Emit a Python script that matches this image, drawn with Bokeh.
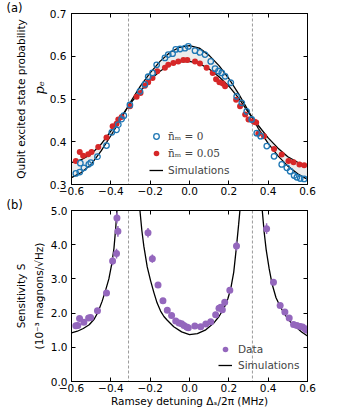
import numpy as np
from bokeh.plotting import figure
from bokeh.models import (Range1d, LinearAxis, FixedTicker, CustomJSTickFormatter,
                          Span, Title, Legend, LegendItem)
from bokeh.layouts import column
from bokeh.embed import file_html
from bokeh.resources import INLINE

# ---------------- data ----------------
x_ticks = [-0.6, -0.4, -0.2, 0.0, 0.2, 0.4, 0.6]
pe_ticks = [0.3, 0.4, 0.5, 0.6, 0.7]
sens_ticks = [0.0, 1.0, 2.0, 3.0, 4.0, 5.0]
crossing_detunings = [-0.31, 0.32]

# (a) simulations
sim_detuning = [-0.60, -0.55, -0.50, -0.45, -0.40, -0.35, -0.30, -0.25, -0.20, -0.15, -0.10, -0.05,
                0.00, 0.05, 0.10, 0.15, 0.20, 0.25, 0.30, 0.35, 0.40, 0.45, 0.50, 0.55, 0.60]
sim_pe_n0 = [0.316, 0.328, 0.347, 0.378, 0.414, 0.452, 0.493, 0.530, 0.561, 0.588, 0.609, 0.621,
             0.625, 0.619, 0.602, 0.578, 0.548, 0.512, 0.472, 0.431, 0.396, 0.367, 0.343, 0.325, 0.312]
sim_pe_n005 = [0.351, 0.358, 0.371, 0.394, 0.425, 0.457, 0.490, 0.518, 0.545, 0.565, 0.580, 0.587,
               0.588, 0.583, 0.570, 0.552, 0.530, 0.502, 0.468, 0.438, 0.409, 0.385, 0.365, 0.352, 0.344]

# (a) measured, n_m = 0
det_n0 = [-0.578, -0.558, -0.555, -0.537, -0.512, -0.502, -0.468, -0.422, -0.395, -0.371, -0.362,
          -0.345, -0.334, -0.303, -0.252, -0.227, -0.210, -0.188, -0.167, -0.125, -0.108, -0.086,
          -0.070, -0.048, -0.023, -0.006, 0.028, 0.053, 0.079, 0.108, 0.130, 0.147, 0.164, 0.181,
          0.210, 0.240, 0.266, 0.291, 0.316, 0.342, 0.362, 0.393, 0.430, 0.469, 0.495, 0.512,
          0.532, 0.546, 0.563, 0.583]
pe_n0 = [0.326, 0.329, 0.350, 0.339, 0.347, 0.351, 0.365, 0.391, 0.422, 0.428, 0.440,
         0.453, 0.461, 0.486, 0.518, 0.534, 0.552, 0.561, 0.580, 0.596, 0.604, 0.606,
         0.616, 0.617, 0.619, 0.623, 0.613, 0.609, 0.604, 0.588, 0.571, 0.565, 0.561, 0.553,
         0.538, 0.506, 0.491, 0.471, 0.452, 0.420, 0.413, 0.390, 0.366, 0.347, 0.339, 0.331,
         0.321, 0.317, 0.314, 0.313]

# (a) measured, n_m = 0.05
det_n005 = [-0.578, -0.558, -0.541, -0.515, -0.498, -0.464, -0.422, -0.391, -0.371, -0.362, -0.345,
            -0.303, -0.269, -0.249, -0.227, -0.210, -0.188, -0.164, -0.125, -0.108, -0.082, -0.057,
            -0.031, -0.011, 0.028, 0.053, 0.087, 0.118, 0.135, 0.152, 0.169, 0.181, 0.237, 0.257,
            0.283, 0.300, 0.325, 0.332, 0.339, 0.350, 0.379, 0.430, 0.469, 0.503, 0.529, 0.559, 0.583]
pe_n005 = [0.355, 0.376, 0.367, 0.371, 0.376, 0.388, 0.410, 0.436, 0.442, 0.452, 0.458,
           0.483, 0.505, 0.514, 0.531, 0.539, 0.549, 0.565, 0.573, 0.580, 0.584, 0.588,
           0.591, 0.591, 0.588, 0.583, 0.573, 0.561, 0.546, 0.539, 0.536, 0.530, 0.498, 0.483,
           0.464, 0.452, 0.448, 0.446, 0.445, 0.419, 0.413, 0.383, 0.370, 0.355, 0.352, 0.347, 0.345]

# (b) measured sensitivity
det_sens = [-0.578, -0.568, -0.559, -0.537, -0.513, -0.503, -0.468, -0.422, -0.391, -0.371, -0.364, -0.369,
            -0.211, -0.189, -0.160, -0.135, -0.113, -0.091, -0.070, -0.053, -0.040, -0.028, -0.014,
            -0.006, 0.027, 0.057, 0.083, 0.108, 0.133, 0.150, 0.159, 0.167, 0.179, 0.205, 0.239,
            0.392, 0.427, 0.461, 0.485, 0.507, 0.529, 0.546, 0.563, 0.575, 0.587, 0.597]
sens = [1.63, 1.64, 1.84, 1.73, 1.86, 1.87, 2.07, 2.59, 3.52, 3.74, 4.39, 4.78,
        4.35, 3.59, 2.82, 2.36, 2.08, 1.93, 1.77, 1.71, 1.69, 1.64, 1.59,
        1.57, 1.62, 1.60, 1.68, 1.75, 1.95, 2.14, 2.17, 2.10, 2.32, 2.67, 3.96,
        4.47, 2.90, 2.22, 2.03, 1.86, 1.67, 1.64, 1.61, 1.59, 1.54, 1.50]
sens_err = [0.04, 0.04, 0.05, 0.04, 0.05, 0.05, 0.06, 0.08, 0.12, 0.14, 0.16, 0.16,
            0.14, 0.12, 0.08, 0.06, 0.05, 0.05, 0.04, 0.04, 0.04, 0.04, 0.04,
            0.04, 0.04, 0.04, 0.04, 0.04, 0.05, 0.06, 0.08, 0.06, 0.07, 0.08, 0.14,
            0.16, 0.09, 0.06, 0.05, 0.05, 0.04, 0.04, 0.04, 0.04, 0.04, 0.04]

# (b) simulations (three branches between the divergences)
sim_sens_left_x = [-0.600, -0.570, -0.540, -0.510, -0.485, -0.465, -0.444, -0.425, -0.410, -0.395,
                   -0.384, -0.375, -0.369, -0.362]
sim_sens_left_y = [1.42, 1.47, 1.55, 1.66, 1.82, 2.03, 2.35, 2.70, 3.00, 3.45, 3.90, 4.50, 5.00, 6.00]
sim_sens_mid_x = [-0.263, -0.252, -0.242, -0.232, -0.215, -0.198, -0.181, -0.165, -0.147, -0.130,
                  -0.113, -0.080, -0.040, 0.000, 0.040, 0.080, 0.125, 0.150, 0.176, 0.195, 0.210,
                  0.225, 0.239, 0.250, 0.258, 0.266]
sim_sens_mid_y = [6.00, 5.00, 4.40, 3.95, 3.35, 2.95, 2.60, 2.30, 2.06, 1.90, 1.79, 1.60, 1.45, 1.37,
                  1.40, 1.50, 1.72, 1.90, 2.15, 2.42, 2.72, 3.20, 3.95, 4.60, 5.10, 6.00]
sim_sens_right_x = [0.361, 0.370, 0.380, 0.390, 0.405, 0.420, 0.440, 0.465, 0.490, 0.515, 0.540,
                    0.570, 0.600]
sim_sens_right_y = [6.00, 5.00, 4.35, 3.85, 3.30, 2.85, 2.45, 2.15, 1.92, 1.73, 1.60, 1.45, 1.33]

# ---------------- style ----------------
FONT = "DejaVu Sans"
FS = "10.5px"
BLUE = "#1f77b4"
RED = "#d62728"
PURPLE = "#9467bd"
fmt_code = "return tick.toFixed(1).replace('-', '\u2212');"


def style_axis(ax, ticks, show_labels=True):
    ax.ticker = FixedTicker(ticks=ticks)
    ax.formatter = CustomJSTickFormatter(code=fmt_code)
    ax.major_tick_in = 4
    ax.major_tick_out = 0
    ax.minor_tick_in = 0
    ax.minor_tick_out = 0
    ax.axis_line_color = "black"
    ax.major_tick_line_color = "black"
    ax.major_label_text_font = FONT
    ax.axis_label_text_font = FONT
    ax.axis_label_text_font_style = "normal"
    ax.axis_label_text_font_size = FS
    ax.axis_label_text_color = "black"
    if show_labels:
        ax.major_label_text_font_size = FS
        ax.major_label_text_color = "black"
    else:
        ax.major_label_text_font_size = "0px"
        ax.major_label_text_color = None
        ax.major_label_standoff = 0


def make_fig(yr, frame_h, yticks):
    p = figure(frame_width=236, frame_height=frame_h,
               min_border_left=71, min_border_right=23,
               min_border_top=0, min_border_bottom=0,
               x_range=Range1d(-0.6, 0.6), y_range=yr,
               output_backend="svg", toolbar_location=None)
    p.grid.visible = False
    p.outline_line_color = "black"
    p.outline_line_width = 1
    xb = p.xaxis[0]
    yl = p.yaxis[0]
    style_axis(xb, x_ticks)
    style_axis(yl, yticks)
    xb.major_label_standoff = 2
    yl.major_label_standoff = 5
    top_ax = LinearAxis()
    right_ax = LinearAxis()
    style_axis(top_ax, x_ticks, show_labels=False)
    style_axis(right_ax, yticks, show_labels=False)
    p.add_layout(top_ax, "above")
    p.add_layout(right_ax, "right")
    for loc in crossing_detunings:
        p.add_layout(Span(location=loc, dimension="height", line_color="#9a9a9a",
                          line_dash="3 2", line_width=1, level="underlay"))
    return p, xb, yl


def panel_tag(text):
    return Title(text=text, align="left", offset=-65, standoff=-3, text_font=FONT,
                 text_font_size="11.5px", text_font_style="normal", text_color="black",
                 text_line_height=1.0)


# ---------------- panel (a) ----------------
pa, xa, ya = make_fig(Range1d(0.3, 0.7), 171, pe_ticks)
pa.add_layout(panel_tag("(a)"), "above")
pa.add_layout(Title(text="p\u2091", align="left", offset=90, standoff=0,
                    text_font="DejaVu Serif", text_font_style="italic", text_font_size="13px",
                    text_color="black", text_line_height=1.0), "left")
pa.add_layout(Title(text="Qubit excited state probability", align="center", standoff=6,
                    text_font=FONT, text_font_style="normal", text_font_size=FS,
                    text_color="black", text_line_height=1.0), "left")

pa.varea(x=sim_detuning, y1=sim_pe_n0, y2=sim_pe_n005, fill_color="#ececec")
r_sim_a = pa.line(sim_detuning, sim_pe_n0, line_color="black", line_width=1.3)
pa.line(sim_detuning, sim_pe_n005, line_color="black", line_width=1.3)
r_red = pa.scatter(det_n005, pe_n005, marker="circle", size=6, fill_color=RED, line_color=None)
r_blue = pa.scatter(det_n0, pe_n0, marker="circle", size=5.5, fill_color=None,
                    line_color=BLUE, line_width=1.3)

leg_kw = dict(border_line_color=None, background_fill_alpha=0, padding=0, margin=0,
              spacing=3, glyph_width=14, glyph_height=14, label_height=14,
              label_standoff=5, label_text_font_size=FS)
leg_a1 = Legend(items=[LegendItem(label="n\u0304\u2098 = 0", renderers=[r_blue]),
                       LegendItem(label="n\u0304\u2098 = 0.05", renderers=[r_red])],
                location=(78, 24), label_text_font="DejaVu Serif", **leg_kw)
leg_a2 = Legend(items=[LegendItem(label="Simulations", renderers=[r_sim_a])],
                location=(78, 7), label_text_font=FONT, **leg_kw)
pa.add_layout(leg_a1)
pa.add_layout(leg_a2)

# ---------------- panel (b) ----------------
pb, xbx, ybx = make_fig(Range1d(0.0, 5.0), 171, sens_ticks)
pb.add_layout(panel_tag("(b)"), "above")
ybx.axis_label = "Sensitivity S\n(10\u207b\u00b3 magnons/\u221aHz)"
ybx.axis_label_standoff = 3
ybx.axis_label_text_line_height = 1.45
ybx.major_label_standoff = 4
xbx.axis_label = "Ramsey detuning \u0394\u209b/2\u03c0 (MHz)"
xbx.axis_label_standoff = 0

r_sim_b = pb.line(sim_sens_left_x, sim_sens_left_y, line_color="black", line_width=1.3)
pb.line(sim_sens_mid_x, sim_sens_mid_y, line_color="black", line_width=1.3)
pb.line(sim_sens_right_x, sim_sens_right_y, line_color="black", line_width=1.3)

s = np.array(sens)
e = np.array(sens_err)
pb.segment(x0=det_sens, y0=s - e, x1=det_sens, y1=s + e, line_color=PURPLE, line_width=1.5)
r_data = pb.scatter(det_sens, sens, marker="circle", size=7, fill_color=PURPLE, line_color=None)

leg_b = Legend(items=[LegendItem(label="Data", renderers=[r_data]),
                      LegendItem(label="Simulations", renderers=[r_sim_b])],
               location=(147, 9), label_text_font=FONT,
               **dict(leg_kw, spacing=2, label_standoff=6))
pb.add_layout(leg_b)

layout = column(pa, pb)
open("out.html", "w").write(file_html(layout, INLINE))
